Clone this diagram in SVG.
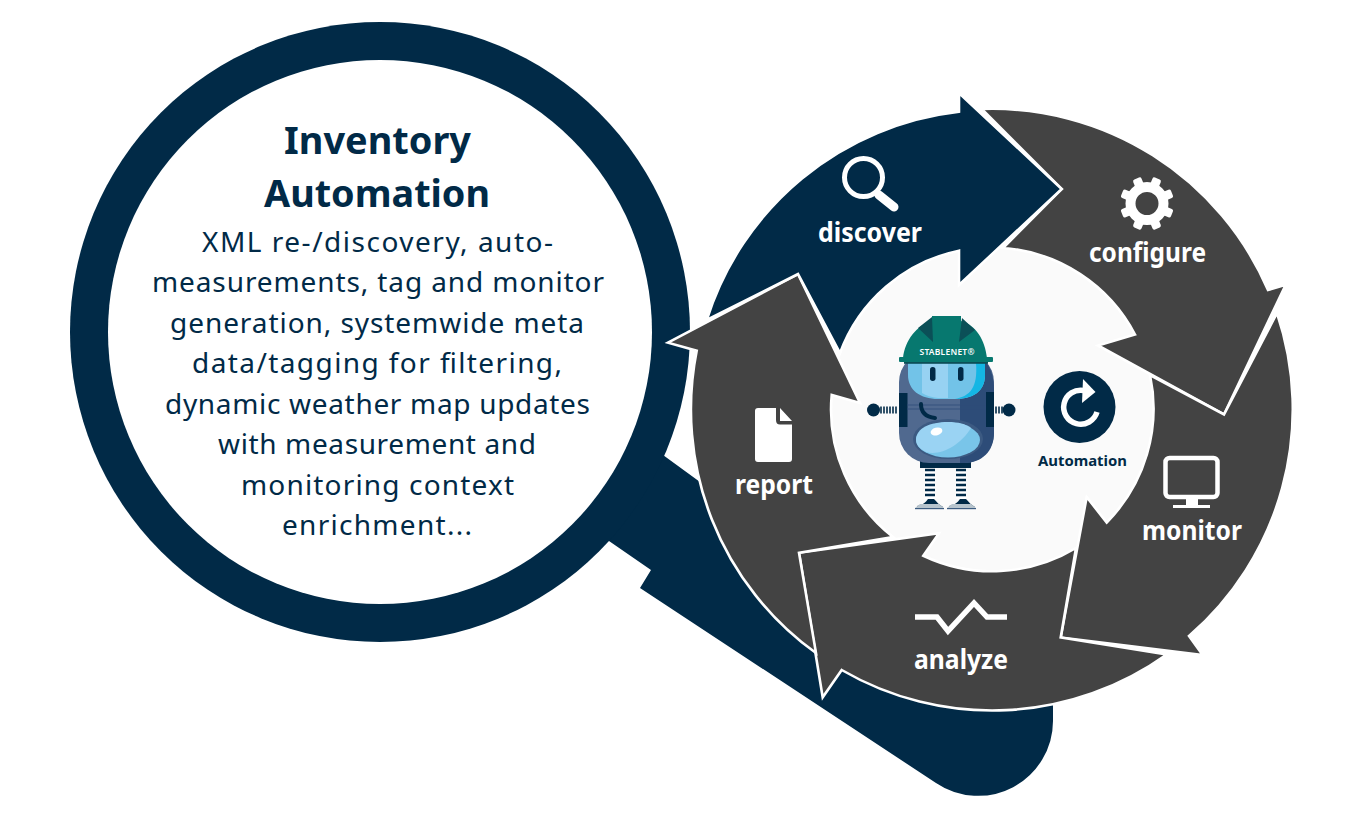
<svg xmlns="http://www.w3.org/2000/svg" xmlns:xlink="http://www.w3.org/1999/xlink" width="1361" height="816" viewBox="0 0 1361 816">
<style>
.body{font-family:"Noto Sans","DejaVu Sans",sans-serif;font-size:28px;fill:#012a47;text-anchor:middle}
.title{font-family:"Noto Sans","DejaVu Sans",sans-serif;font-size:38px;font-weight:700;fill:#012a47;text-anchor:middle}
.lab{font-family:"Noto Sans","DejaVu Sans",sans-serif;font-size:26px;font-weight:700;fill:#fff;text-anchor:middle}
.arrow{stroke:#fff;stroke-width:2.6;stroke-linejoin:miter}
.grey{fill:#434343}.navy{fill:#012a47}
.icon{fill:none;stroke:#fff}
</style>
<defs>
<g id="leg"><rect x="0" y="0" width="10" height="31" fill="#fff"/><path d="M0 2h10M0 7h10M0 12h10M0 17h10M0 22h10M0 27h10" stroke="#012a47" stroke-width="2.6"/></g>
<g id="shoe"><path d="M2 7C8 6 11 3 13 0h6c3 3 5 6 9 8H2Z" fill="#012a47"/><path d="M0 9 5 5h19l5 4Z" fill="#b7c4cd"/><rect x="0" y="9" width="29" height="1.2" fill="#3d5c80"/></g>
<rect id="tooth" x="-4.500" y="-27" width="9" height="13" rx="2" fill="#fff"/>
</defs>
<rect width="1361" height="816" fill="#fff"/>
<g id="lens">
<path class="navy" d="M663 455 700 482 1053 695V721A75 75 0 0 1 936 783L640 588 651 570 609 541 600 480Z"/>
<circle cx="380" cy="332" r="310" class="navy"/>
<circle cx="380" cy="332" r="272" fill="#fff"/>
<text class="title" x="377.500" y="154" textLength="187" lengthAdjust="spacingAndGlyphs">Inventory</text>
<text class="title" x="377" y="207" textLength="226" lengthAdjust="spacingAndGlyphs">Automation</text>
<text class="body" x="377.500" y="252" textLength="351">XML re-/discovery, auto-</text>
<text class="body" x="378" y="292" textLength="452">measurements, tag and monitor</text>
<text class="body" x="377" y="333" textLength="414">generation, systemwide meta</text>
<text class="body" x="377" y="373" textLength="370">data/tagging for filtering,</text>
<text class="body" x="377.500" y="414" textLength="425">dynamic weather map updates</text>
<text class="body" x="377" y="454" textLength="318">with measurement and</text>
<text class="body" x="377.500" y="495" textLength="273">monitoring context</text>
<text class="body" x="377" y="535" textLength="190">enrichment...</text>
</g>
<circle id="hub" cx="992.500" cy="410" r="162" fill="#fafafa"/>
<g id="connectors">
<path id="arrow-configure" class="arrow grey" d="M981.700 109A300 300 0 0 1 1268 290L1285.700 284.700 1224 414.500 1098 345.500 1135 334.500A162 162 0 0 0 1003 248L1061.700 189Z"/>
<path id="arrow-monitor" class="arrow grey" d="M1277 313A300 300 0 0 1 1189 636L1202.700 655 1060.700 637.500 1086.700 497 1106.700 522.500A162 162 0 0 0 1150 375L1224 414.500Z"/>
<path id="arrow-analyze" class="arrow grey" d="M1166.700 654.500A300 300 0 0 1 841.700 670L822.700 697.300 799 552.700 939 533.300 923.300 555.700A162 162 0 0 0 1076 548L1060.700 637.500Z"/>
<path id="arrow-report" class="arrow grey" d="M816 653A300 300 0 0 1 696.700 350.700L668 342.700 798 274 860 403 831.700 395A162 162 0 0 0 893 537L799 552.700Z"/>
<path id="arrow-discover" class="arrow navy" d="M706.700 320A300 300 0 0 1 959 111.700V93L1061.700 189 959 285V250.700A162 162 0 0 0 840 353L798 274Z"/>
</g>
<g id="discover">
<circle class="icon" cx="863.500" cy="177.500" r="19" stroke-width="5"/>
<path class="icon" d="M879 195 894 207" stroke-width="9" stroke-linecap="round"/>
<text class="lab" x="870" y="242" textLength="104" lengthAdjust="spacingAndGlyphs">discover</text>
</g>
<g id="configure">
<circle class="icon" cx="1147" cy="203.500" r="16.500" stroke-width="10"/>
<use xlink:href="#tooth" href="#tooth" transform="translate(1147 203.500) rotate(22.500)"/>
<use xlink:href="#tooth" href="#tooth" transform="translate(1147 203.500) rotate(67.500)"/>
<use xlink:href="#tooth" href="#tooth" transform="translate(1147 203.500) rotate(112.500)"/>
<use xlink:href="#tooth" href="#tooth" transform="translate(1147 203.500) rotate(157.500)"/>
<use xlink:href="#tooth" href="#tooth" transform="translate(1147 203.500) rotate(202.500)"/>
<use xlink:href="#tooth" href="#tooth" transform="translate(1147 203.500) rotate(247.500)"/>
<use xlink:href="#tooth" href="#tooth" transform="translate(1147 203.500) rotate(292.500)"/>
<use xlink:href="#tooth" href="#tooth" transform="translate(1147 203.500) rotate(337.500)"/>
<text class="lab" x="1147.500" y="262" textLength="117" lengthAdjust="spacingAndGlyphs">configure</text>
</g>
<g id="monitor">
<rect class="icon" x="1165.500" y="458" width="52" height="39" rx="4" stroke-width="4.500"/>
<path d="M1186 499h12v6h-12ZM1173 505h37v3h-37Z" fill="#fff"/>
<text class="lab" x="1192" y="540" textLength="100" lengthAdjust="spacingAndGlyphs">monitor</text>
</g>
<g id="analyze">
<path class="icon" d="M915 617H937L948 631 974 603 987 617H1007" stroke-width="5.500"/>
<text class="lab" x="961" y="669" textLength="94" lengthAdjust="spacingAndGlyphs">analyze</text>
</g>
<g id="report">
<path d="M758 408H776V420Q776 424.500 780 424.500H792V459Q792 462 789 462H758Q755 462 755 459V411Q755 408 758 408ZM780 408 792 421H780Z" fill="#fff"/>
<text class="lab" x="774" y="494" textLength="78" lengthAdjust="spacingAndGlyphs">report</text>
</g>
<g id="automation">
<circle cx="1079.500" cy="407" r="36" class="navy"/>
<path class="icon" d="M1084 390.500A17 17 0 1 0 1097 412" stroke-width="5.500"/>
<path d="M1083 379 1095.500 392 1082 403Z" fill="#fff"/>
<text x="1082.500" y="466" font-family="Noto Sans, DejaVu Sans, sans-serif" font-size="14.500" font-weight="700" fill="#012a47" text-anchor="middle" textLength="89" lengthAdjust="spacingAndGlyphs">Automation</text>
</g>
<g id="robot">
<circle cx="873.500" cy="410" r="6.500" class="navy"/>
<path d="M881 406.500v7M884 406.500v7M887 406.500v7M890 406.500v7M893 406.500v7M896 406.500v7" stroke="#012a47" stroke-width="1.600"/>
<circle cx="1009" cy="410" r="6.500" class="navy"/>
<path d="M996 406.500v7M999 406.500v7M1002 406.500v7" stroke="#012a47" stroke-width="1.600"/>
<use xlink:href="#leg" href="#leg" x="925" y="468"/>
<use xlink:href="#leg" href="#leg" x="956" y="468"/>
<use xlink:href="#shoe" href="#shoe" x="915" y="499"/>
<use xlink:href="#shoe" href="#shoe" x="947" y="499"/>
<rect x="920" y="458" width="51" height="10" class="navy"/>
<rect x="899" y="352" width="95" height="111" rx="30" fill="#50698f"/>
<path d="M960 352H964C982 352 994 366 994 390V433C994 451 982 463 964 463H960Z" fill="#2d4c78"/>
<path d="M908 362H985V375C985 392 972 399 955 399H938C920 399 908 390 908 375Z" fill="#72c3e8"/>
<path d="M976 363H985V375C985 390 975 399 955 399 970 396 978 388 976 363Z" fill="#14b6e4"/>
<path d="M922 362H948V398H938Q928 397 922 393Z" fill="#97d2f2"/>
<rect x="930" y="367" width="5.500" height="14" rx="2.700" class="navy"/>
<rect x="958" y="367" width="5.500" height="14" rx="2.700" class="navy"/>
<rect x="899" y="393" width="8.500" height="34" class="navy"/>
<rect x="986" y="392" width="8" height="35" class="navy"/>
<path d="M907 405H986M907 409H986" stroke="#2d4c78" stroke-width=".8"/>
<path d="M921 404C921 412 926 417 935 418" fill="none" stroke="#012a47" stroke-width="4" stroke-linecap="round"/>
<ellipse cx="948" cy="439" rx="35" ry="20" fill="#3c5a82"/>
<ellipse cx="948" cy="440" rx="32" ry="17.500" fill="#79c5e9"/>
<path d="M916 440C916 428 930 422 948 422 958 422 966 424 971 428 960 446 940 456 926 452 920 449 916 445 916 440Z" fill="#9ad3f3"/>
<ellipse cx="936.500" cy="431.500" rx="6" ry="3.800" fill="#fff" transform="rotate(-15 936.500 431.500)"/>
<path d="M903 358C905 340 917 325 932 321V316H961V321C976 325 985 340 987 358Z" fill="#07786f"/>
<path d="M918 328 932 317 933 342ZM975 330 962 318 959 342Z" fill="#0b4f57"/>
<rect x="899" y="357" width="94" height="5" rx="1" fill="#07786f"/>
<rect x="904" y="362" width="84" height="1.800" fill="#0b4f57"/>
<text x="947" y="354.500" font-family="Noto Sans, DejaVu Sans, sans-serif" font-size="8.500" font-weight="600" fill="#fff" text-anchor="middle" textLength="55" lengthAdjust="spacing">STABLENET®</text>
</g>
</svg>
